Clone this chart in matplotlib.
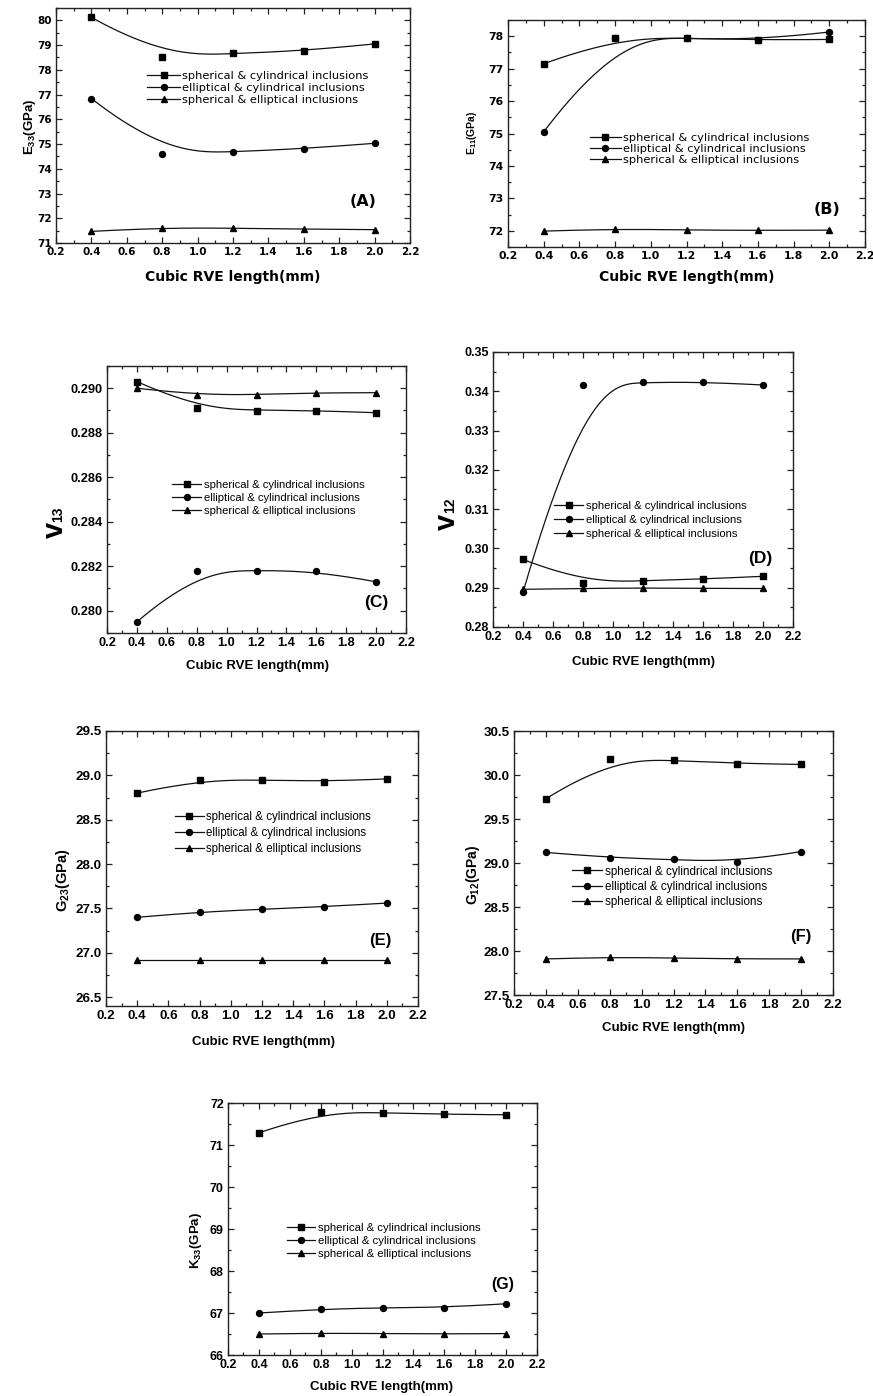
import numpy as np
import matplotlib
matplotlib.use("Agg")
import matplotlib.pyplot as plt
from matplotlib.lines import Line2D
from matplotlib.ticker import MultipleLocator, FormatStrFormatter

W, H, DPI = 873, 1396, 100

plt.rcParams["mathtext.fontset"] = "custom"
plt.rcParams["mathtext.rm"] = "Liberation Sans:bold"
plt.rcParams["mathtext.bf"] = "Liberation Sans:bold"
plt.rcParams["mathtext.default"] = "rm"

# ---------------- data ----------------
length_mm = [0.4, 0.8, 1.2, 1.6, 2.0]
series_names = ["spherical & cylindrical inclusions",
                "elliptical & cylindrical inclusions",
                "spherical & elliptical inclusions"]

E33_sph_cyl = [80.12, 78.53, 78.67, 78.76, 79.05]
E33_ell_cyl = [76.84, 74.61, 74.68, 74.81, 75.03]
E33_sph_ell = [71.47, 71.62, 71.60, 71.56, 71.54]

E11_sph_cyl = [77.15, 77.95, 77.95, 77.88, 77.90]
E11_ell_cyl = [75.05, 77.95, 77.95, 77.88, 78.13]
E11_sph_ell = [71.99, 72.06, 72.02, 72.01, 72.02]

v13_sph_cyl = [0.2903, 0.2891, 0.2890, 0.2890, 0.2889]
v13_ell_cyl = [0.2795, 0.2818, 0.2818, 0.2818, 0.2813]
v13_sph_ell = [0.2900, 0.2897, 0.2897, 0.2898, 0.2898]

v12_sph_cyl = [0.2972, 0.2913, 0.2918, 0.2922, 0.2929]
v12_ell_cyl = [0.2888, 0.3416, 0.3423, 0.3424, 0.3416]
v12_sph_ell = [0.2896, 0.2898, 0.2900, 0.2898, 0.2898]

G23_sph_cyl = [28.80, 28.95, 28.95, 28.93, 28.96]
G23_ell_cyl = [27.40, 27.46, 27.49, 27.52, 27.56]
G23_sph_ell = [26.92, 26.92, 26.92, 26.92, 26.92]

G12_sph_cyl = [29.73, 30.18, 30.17, 30.13, 30.12]
G12_ell_cyl = [29.12, 29.06, 29.04, 29.01, 29.13]
G12_sph_ell = [27.91, 27.93, 27.92, 27.91, 27.91]

K33_sph_cyl = [71.29, 71.79, 71.77, 71.73, 71.72]
K33_ell_cyl = [67.00, 67.09, 67.13, 67.13, 67.22]
K33_sph_ell = [66.50, 66.52, 66.51, 66.50, 66.51]


def bspline(x, y, n=300, k=3):
    """Clamped cubic B-spline using the data points as control points."""
    P = np.column_stack([x, y]).astype(float)
    m = len(P)
    k = min(k, m - 1)
    inner = np.linspace(0, 1, m - k + 1)[1:-1]
    t = np.concatenate([np.zeros(k + 1), inner, np.ones(k + 1)])
    u = np.linspace(0, 1, n)

    def basis(i, p):
        if p == 0:
            r = ((t[i] <= u) & (u < t[i + 1])).astype(float)
            if t[i + 1] == 1.0 and t[i] < 1.0:
                r[u == 1.0] = 1.0
            return r
        out = np.zeros_like(u)
        d1 = t[i + p] - t[i]
        d2 = t[i + p + 1] - t[i + 1]
        if d1 > 0:
            out += (u - t[i]) / d1 * basis(i, p - 1)
        if d2 > 0:
            out += (t[i + p + 1] - u) / d2 * basis(i + 1, p - 1)
        return out

    N = np.array([basis(i, k) for i in range(m)])
    c = N.T @ P
    return c[:, 0], c[:, 1]


fig = plt.figure(figsize=(W / DPI, H / DPI), dpi=DPI)


def fx(x):
    return x / W


def fy(y):
    return 1 - y / H


LINE_C = "#111111"
MARKERS = ["s", "o", "^"]
MSIZES = [4.0, 4.3, 5.0]


def panel(box, ylim, ymaj, ymin, yfmt, series, fam, tick_fs,
          xlabel_xy, xlabel_fs, leg_xy, leg_fs, leg_hl, leg_sp,
          tag, tag_xy, tag_fs):
    l, r, t, b = box
    ax = fig.add_axes([fx(l), fy(b), (r - l) / W, (b - t) / H])
    for vals, mk, ms in zip(series, MARKERS, MSIZES):
        sx, sy = bspline(length_mm, vals)
        ax.plot(sx, sy, color=LINE_C, lw=0.9)
        ax.plot(length_mm, vals, ls="none", marker=mk, ms=ms,
                color="black", mec="black")
    ax.set_xlim(0.2, 2.2)
    ax.set_ylim(*ylim)
    ax.xaxis.set_major_locator(MultipleLocator(0.2))
    ax.xaxis.set_minor_locator(MultipleLocator(0.1))
    ax.xaxis.set_major_formatter(FormatStrFormatter("%.1f"))
    ax.yaxis.set_major_locator(MultipleLocator(ymaj))
    ax.yaxis.set_minor_locator(MultipleLocator(ymin))
    ax.yaxis.set_major_formatter(FormatStrFormatter(yfmt))
    ax.tick_params(which="both", direction="in", top=True, right=True,
                   color="#222222", width=0.9)
    ax.tick_params(which="major", length=4, pad=3)
    ax.tick_params(which="minor", length=2.5)
    for lab in ax.get_xticklabels() + ax.get_yticklabels():
        lab.set_family(fam)
        lab.set_weight("bold")
        lab.set_fontsize(tick_fs)
    for s in ax.spines.values():
        s.set_linewidth(1.0)
        s.set_color("#222222")

    handles = [Line2D([], [], color=LINE_C, lw=0.9, marker=mk, ms=ms,
                      mfc="black", mec="black")
               for mk, ms in zip(MARKERS, MSIZES)]
    ax.legend(handles, series_names, loc="center left",
              bbox_to_anchor=(fx(leg_xy[0]), fy(leg_xy[1])),
              bbox_transform=fig.transFigure, frameon=False,
              borderpad=0, borderaxespad=0, handlelength=leg_hl,
              handletextpad=0.2, labelspacing=leg_sp, numpoints=1,
              prop={"family": fam, "size": leg_fs})

    fig.text(fx(xlabel_xy[0]), fy(xlabel_xy[1]), "Cubic RVE length(mm)",
             ha="center", va="center", family=fam, weight="bold",
             fontsize=xlabel_fs)
    fig.text(fx(tag_xy[0]), fy(tag_xy[1]), tag, ha="center", va="center",
             family=fam, weight="bold", fontsize=tag_fs)
    return ax


SANS_W = "DejaVu Sans"
SANS = "Liberation Sans"

# (A) E33
panel((56, 410, 8, 243), (71, 80.5), 1, 0.5, "%d",
      [E33_sph_cyl, E33_ell_cyl, E33_sph_ell], SANS_W, 7.5,
      (233, 277), 10, (147, 88), 8.2, 2.9, 0.15,
      "(A)", (363, 202), 11.5)
fig.text(fx(30), fy(127), "E$_{33}$(GPa)", rotation=90, ha="center",
         va="center", family=SANS, weight="bold", fontsize=9.5)

# (B) E11
panel((508, 865, 20, 247), (71.5, 78.5), 1, 0.5, "%d",
      [E11_sph_cyl, E11_ell_cyl, E11_sph_ell], SANS_W, 7.8,
      (687, 277), 10, (590, 149), 8.2, 2.7, 0.12,
      "(B)", (827, 209), 11.5)
fig.text(fx(472), fy(133), "E$_{11}$(GPa)", rotation=90, ha="center",
         va="center", family=SANS, weight="bold", fontsize=7.5)

# (C) v13
panel((107, 406, 366, 633), (0.279, 0.291), 0.002, 0.001, "%.3f",
      [v13_sph_cyl, v13_ell_cyl, v13_sph_ell], SANS, 9.2,
      (257, 666), 9.5, (172, 498), 8.1, 2.6, 0.3,
      "(C)", (376, 603), 12.5)
fig.text(fx(55), fy(530), "v", rotation=90, ha="center", va="center",
         family=SANS, weight="bold", fontsize=21)
fig.text(fx(58), fy(514), "13", rotation=90, ha="center", va="center",
         family=SANS, weight="bold", fontsize=10)

# (D) v12
panel((493, 793, 352, 627), (0.28, 0.35), 0.01, 0.005, "%.2f",
      [v12_sph_cyl, v12_ell_cyl, v12_sph_ell], SANS, 9.0,
      (643, 662), 9.5, (554, 520), 8.1, 2.6, 0.32,
      "(D)", (760, 558), 12.5)
fig.text(fx(447), fy(522), "v", rotation=90, ha="center", va="center",
         family=SANS, weight="bold", fontsize=21)
fig.text(fx(450), fy(505), "12", rotation=90, ha="center", va="center",
         family=SANS, weight="bold", fontsize=10)

# (E) G23
panel((106, 418, 731, 1006), (26.4, 29.5), 0.5, 0.25, "%.1f",
      [G23_sph_cyl, G23_ell_cyl, G23_sph_ell], SANS, 9.6,
      (263, 1042), 9.5, (175, 833), 8.3, 2.5, 0.32,
      "(E)", (380, 940), 12)
fig.text(fx(63), fy(880), "G$_{23}$(GPa)", rotation=90, ha="center",
         va="center", family=SANS, weight="bold", fontsize=10.5)

# (F) G12
panel((514, 833, 731, 995), (27.5, 30.5), 0.5, 0.25, "%.1f",
      [G12_sph_cyl, G12_ell_cyl, G12_sph_ell], SANS, 9.6,
      (673, 1028), 9.5, (572, 887), 8.4, 2.6, 0.3,
      "(F)", (801, 937), 12)
fig.text(fx(473), fy(875), "G$_{12}$(GPa)", rotation=90, ha="center",
         va="center", family=SANS, weight="bold", fontsize=10)

# (G) K33
panel((228, 537, 1103, 1355), (66, 72), 1, 0.5, "%d",
      [K33_sph_cyl, K33_ell_cyl, K33_sph_ell], SANS, 9.0,
      (382, 1387), 9.5, (287, 1241), 8.2, 2.5, 0.3,
      "(G)", (503, 1285), 11.5)
fig.text(fx(196), fy(1240), "K$_{33}$(GPa)", rotation=90, ha="center",
         va="center", family=SANS, weight="bold", fontsize=9.5)

fig.savefig("out.png", dpi=DPI)
